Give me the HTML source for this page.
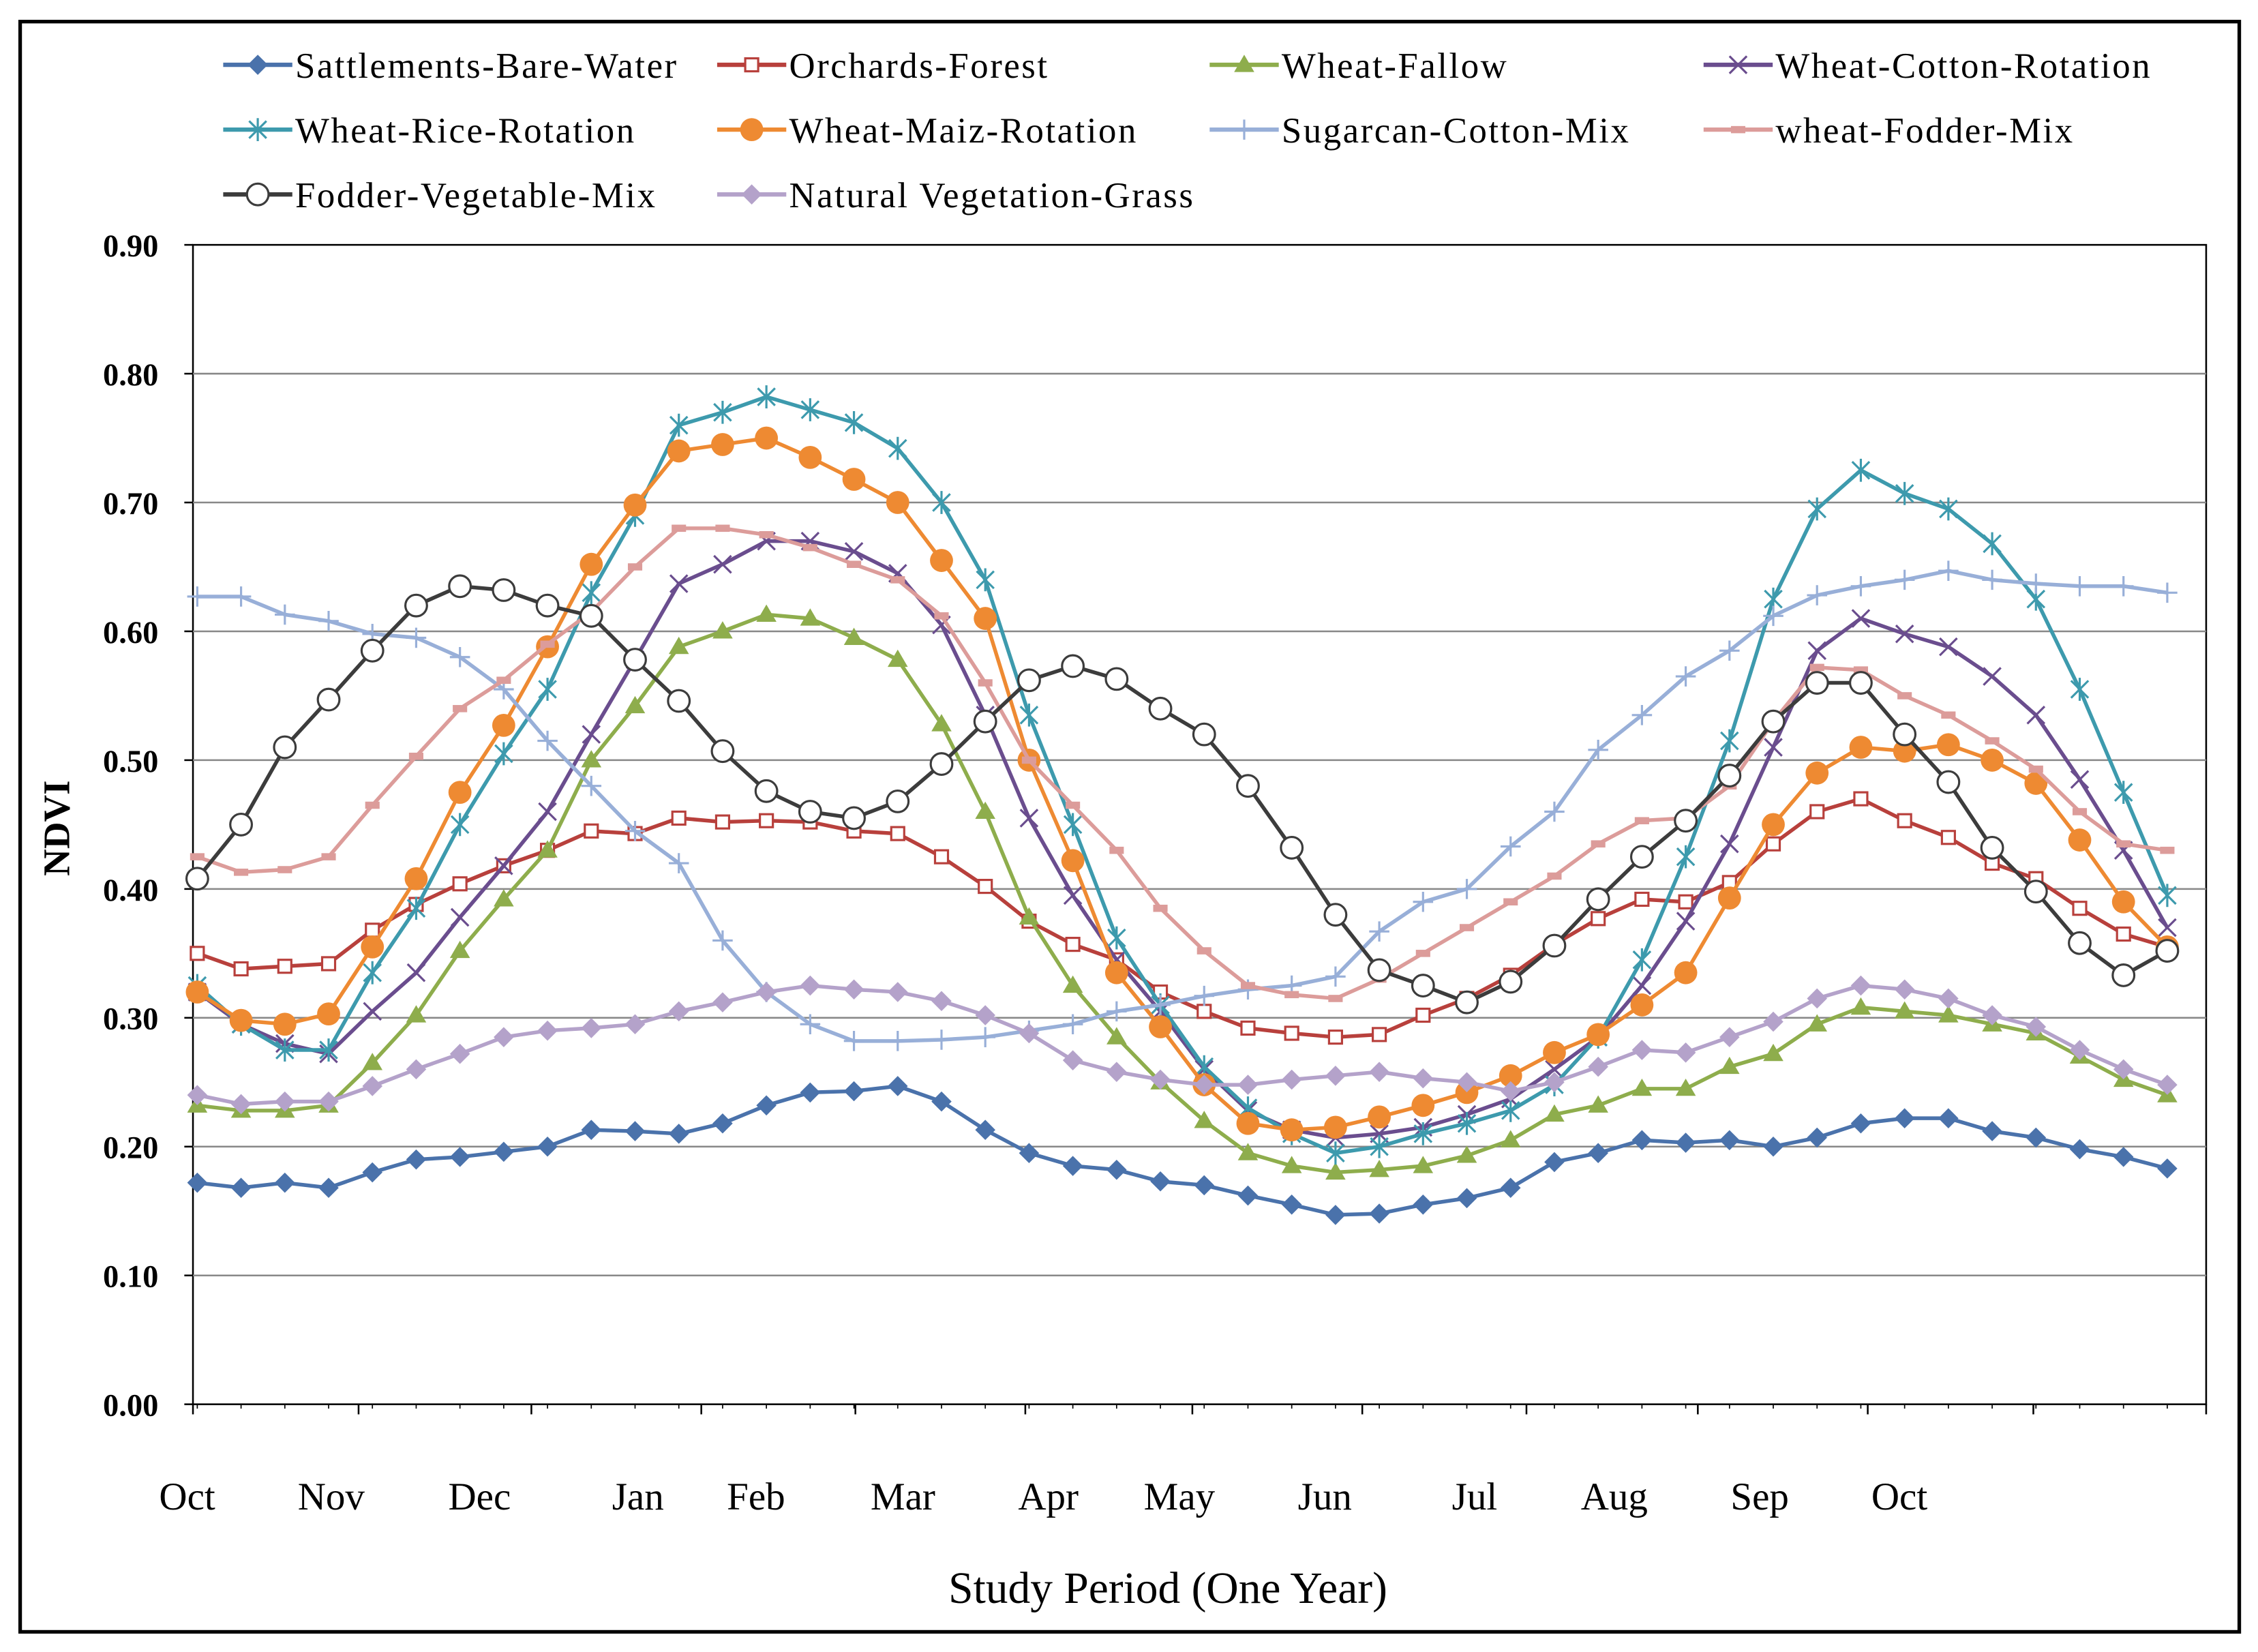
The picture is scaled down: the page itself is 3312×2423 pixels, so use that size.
<!DOCTYPE html>
<html><head><meta charset="utf-8">
<style>
html,body{margin:0;padding:0;background:#fff;}
svg{display:block;}
text{font-family:"Liberation Serif",serif;}
</style></head>
<body>
<svg id="chart" width="3312" height="2423" viewBox="0 0 1568 1147" preserveAspectRatio="none" xmlns="http://www.w3.org/2000/svg" font-family="Liberation Serif, serif">
<rect x="0" y="0" width="1568" height="1147" fill="#fff"/>
<rect x="14" y="15" width="1541" height="1118" fill="none" stroke="#000" stroke-width="2.5"/>
<g id="grid"></g>
<g id="axes"></g>
<g id="series"></g>
<g id="legend"></g>
<text transform="translate(48,575) rotate(-90)" text-anchor="middle" font-size="26" font-weight="bold" font-family="Liberation Serif, serif">NDVI</text>
<text x="811" y="1113" text-anchor="middle" font-size="31" font-family="Liberation Serif, serif">Study Period (One Year)</text>
</svg>
<script>
const yTicks = [0,0.1,0.2,0.3,0.4,0.5,0.6,0.7,0.8,0.9];
const monthLabels = ["Oct","Nov","Dec","Jan","Feb","Mar","Apr","May","Jun","Jul","Aug","Sep","Oct"];
const monthLabelX = [130,230,333,443,525,627,728,819,920,1024,1121,1222,1319];
const seriesNames = ["Sattlements-Bare-Water","Orchards-Forest","Wheat-Fallow","Wheat-Cotton-Rotation","Wheat-Rice-Rotation","Wheat-Maiz-Rotation","Sugarcan-Cotton-Mix","wheat-Fodder-Mix","Fodder-Vegetable-Mix","Natural Vegetation-Grass"];
const settlements = [0.172,0.168,0.172,0.168,0.18,0.19,0.192,0.196,0.2,0.213,0.212,0.21,0.218,0.232,0.242,0.243,0.247,0.235,0.213,0.195,0.185,0.182,0.173,0.17,0.162,0.155,0.147,0.148,0.155,0.16,0.168,0.188,0.195,0.205,0.203,0.205,0.2,0.207,0.218,0.222,0.222,0.212,0.207,0.198,0.192,0.183];
const orchards = [0.35,0.338,0.34,0.342,0.368,0.388,0.404,0.418,0.43,0.445,0.443,0.455,0.452,0.453,0.452,0.445,0.443,0.425,0.402,0.375,0.357,0.345,0.32,0.305,0.292,0.288,0.285,0.287,0.302,0.315,0.333,0.357,0.377,0.392,0.39,0.405,0.435,0.46,0.47,0.453,0.44,0.42,0.408,0.385,0.365,0.355];
const wheatFallow = [0.232,0.228,0.228,0.232,0.265,0.302,0.352,0.392,0.43,0.5,0.542,0.588,0.6,0.613,0.61,0.595,0.578,0.528,0.46,0.378,0.325,0.285,0.25,0.22,0.195,0.185,0.18,0.182,0.185,0.193,0.205,0.225,0.232,0.245,0.245,0.262,0.272,0.295,0.308,0.305,0.302,0.295,0.288,0.27,0.252,0.24];
const wheatCotton = [0.32,0.295,0.28,0.272,0.305,0.335,0.378,0.418,0.46,0.52,0.578,0.637,0.652,0.67,0.67,0.662,0.645,0.605,0.535,0.455,0.395,0.345,0.305,0.26,0.228,0.213,0.207,0.21,0.215,0.225,0.237,0.26,0.285,0.325,0.375,0.435,0.51,0.585,0.61,0.598,0.588,0.565,0.535,0.485,0.43,0.37];
const wheatRice = [0.325,0.295,0.275,0.275,0.335,0.385,0.45,0.505,0.555,0.63,0.69,0.76,0.77,0.782,0.772,0.762,0.742,0.7,0.64,0.535,0.45,0.362,0.31,0.262,0.23,0.21,0.195,0.2,0.21,0.218,0.228,0.248,0.285,0.345,0.425,0.515,0.625,0.695,0.725,0.707,0.695,0.668,0.625,0.555,0.475,0.395];
const wheatMaiz = [0.32,0.298,0.295,0.303,0.355,0.408,0.475,0.527,0.588,0.652,0.698,0.74,0.745,0.75,0.735,0.718,0.7,0.655,0.61,0.5,0.422,0.335,0.293,0.248,0.218,0.213,0.215,0.223,0.232,0.242,0.255,0.273,0.287,0.31,0.335,0.393,0.45,0.49,0.51,0.507,0.512,0.5,0.482,0.438,0.39,0.355];
const sugarcane = [0.627,0.627,0.613,0.608,0.598,0.595,0.58,0.555,0.515,0.48,0.445,0.42,0.36,0.32,0.295,0.282,0.282,0.283,0.285,0.29,0.295,0.305,0.31,0.317,0.322,0.325,0.332,0.367,0.39,0.4,0.433,0.46,0.508,0.535,0.565,0.585,0.612,0.628,0.635,0.64,0.647,0.64,0.637,0.635,0.635,0.63];
const wheatFodder = [0.425,0.413,0.415,0.425,0.465,0.503,0.54,0.562,0.59,0.615,0.65,0.68,0.68,0.675,0.665,0.652,0.64,0.612,0.56,0.5,0.465,0.43,0.385,0.352,0.325,0.318,0.315,0.33,0.35,0.37,0.39,0.41,0.435,0.453,0.455,0.48,0.53,0.572,0.57,0.55,0.535,0.515,0.493,0.46,0.435,0.43];
const fodderVeg = [0.408,0.45,0.51,0.547,0.585,0.62,0.635,0.632,0.62,0.612,0.578,0.546,0.507,0.476,0.46,0.455,0.468,0.497,0.53,0.562,0.573,0.563,0.54,0.52,0.48,0.432,0.38,0.337,0.325,0.312,0.328,0.356,0.392,0.425,0.453,0.488,0.53,0.56,0.56,0.52,0.483,0.432,0.398,0.358,0.333,0.352];
const naturalVeg = [0.24,0.233,0.235,0.235,0.247,0.26,0.272,0.285,0.29,0.292,0.295,0.305,0.312,0.32,0.325,0.322,0.32,0.313,0.302,0.288,0.267,0.258,0.252,0.248,0.248,0.252,0.255,0.258,0.253,0.25,0.243,0.25,0.262,0.275,0.273,0.285,0.297,0.315,0.325,0.322,0.315,0.302,0.293,0.275,0.26,0.248];

const NS="http://www.w3.org/2000/svg";
const PL=134, PR=1532, PT=170, PB=975;
const X0=137, X1=1505;
function xScale(i,n){return X0+(X1-X0)*i/(n-1);}
function yScale(v){return PB-(PB-PT)*v/0.9;}
function mk(tag,attrs,parent){const e=document.createElementNS(NS,tag);for(const k in attrs)e.setAttribute(k,attrs[k]);parent.appendChild(e);return e;}

const grid=document.getElementById('grid'), axes=document.getElementById('axes');
mk('rect',{x:PL,y:PT,width:PR-PL,height:PB-PT,fill:'none',stroke:'#000','stroke-width':1.2},grid);
yTicks.forEach(t=>{
  const y=yScale(t);
  if(t>0&&t<0.9){const l=mk('line',{x1:PL,x2:PR,y1:y,y2:y,stroke:'#888','stroke-width':1.2},grid);
  
  }
  mk('line',{x1:PL-6,x2:PL,y1:y,y2:y,stroke:'#000','stroke-width':1.2},axes);
  const tx=mk('text',{x:PL-24,y:y+8,'text-anchor':'end','font-size':22,'font-weight':'bold','font-family':'Liberation Serif, serif'},axes);
  tx.textContent=t.toFixed(2);
  
  
});
const xTickPos=[134,249,369,487,594,712,828,946,1060,1179,1297,1412,1532];
xTickPos.forEach(x=>mk('line',{x1:x,x2:x,y1:PB,y2:PB+7,stroke:'#000','stroke-width':1.2},axes));
for(let i=0;i<46;i++){const x=xScale(i,46);mk('line',{x1:x,x2:x,y1:PB,y2:PB+3,stroke:'#000','stroke-width':0.8},axes);}
monthLabels.forEach((m,i)=>{
  const tx=mk('text',{x:monthLabelX[i],y:1048,'text-anchor':'middle','font-size':27,'font-family':'Liberation Serif, serif'},axes);
  tx.textContent=m;
  
  
});

const styles=[
 {c:'#4a72ab',m:'diamond'},{c:'#b8403c',m:'square'},{c:'#8ead4c',m:'triangle'},
 {c:'#6a4d8e',m:'x'},{c:'#3d9aad',m:'star'},{c:'#ee8a32',m:'dot'},
 {c:'#98afd8',m:'plus'},{c:'#dc9c9a',m:'dash'},{c:'#3c3c3c',m:'circle'},{c:'#b4a2ca',m:'diamond'}];
const data=[settlements,orchards,wheatFallow,wheatCotton,wheatRice,wheatMaiz,sugarcane,wheatFodder,fodderVeg,naturalVeg];

function marker(g,type,x,y,c){
  const s=7;
  switch(type){
    case 'diamond':mk('polygon',{points:`${x},${y-s} ${x+s},${y} ${x},${y+s} ${x-s},${y}`,fill:c},g);break;
    case 'square':mk('rect',{x:x-4.5,y:y-4.5,width:9,height:9,fill:'#fff',stroke:c,'stroke-width':1.5},g);break;
    case 'triangle':mk('polygon',{points:`${x},${y-7} ${x+7},${y+5} ${x-7},${y+5}`,fill:c},g);break;
    case 'x':mk('path',{d:`M${x-6},${y-6}L${x+6},${y+6}M${x-6},${y+6}L${x+6},${y-6}`,stroke:c,'stroke-width':1.5},g);break;
    case 'star':mk('path',{d:`M${x-6},${y-6}L${x+6},${y+6}M${x-6},${y+6}L${x+6},${y-6}M${x},${y-8}L${x},${y+8}`,stroke:c,'stroke-width':1.5},g);break;
    case 'dot':mk('circle',{cx:x,cy:y,r:8,fill:c},g);break;
    case 'plus':mk('path',{d:`M${x-7},${y}L${x+7},${y}M${x},${y-7}L${x},${y+7}`,stroke:c,'stroke-width':1.5},g);break;
    case 'dash':mk('rect',{x:x-5,y:y-2.5,width:10,height:5,fill:c},g);break;
    case 'circle':mk('circle',{cx:x,cy:y,r:7.5,fill:'#fff',stroke:c,'stroke-width':1.5},g);break;
  }
}
const sg=document.getElementById('series');
data.forEach((arr,si)=>{
  const st=styles[si];
  const g=mk('g',{},sg);
  
  
  const pts=arr.map((v,i)=>xScale(i,arr.length).toFixed(1)+','+yScale(v).toFixed(1)).join(' ');
  mk('polyline',{points:pts,fill:'none',stroke:st.c,'stroke-width':2.6,'stroke-linejoin':'round'},g);
  arr.forEach((v,i)=>marker(g,st.m,xScale(i,arr.length),yScale(v),st.c));
});

const lg=document.getElementById('legend');
const colX=[155,498,840,1183], rowY=[45,90,135];
seriesNames.forEach((n,i)=>{
  const r=Math.floor(i/4), c=i%4;
  const x=colX[c], y=rowY[r];
  const g=mk('g',{},lg);
  
  
  mk('line',{x1:x,x2:x+48,y1:y,y2:y,stroke:styles[i].c,'stroke-width':3},g);
  marker(g,styles[i].m,x+24,y,styles[i].c);
  const t=mk('text',{x:x+50,y:y+9,'font-size':25,'letter-spacing':'1.2','font-family':'Liberation Serif, serif'},g);
  t.textContent=n;
});
</script>
</body></html>
